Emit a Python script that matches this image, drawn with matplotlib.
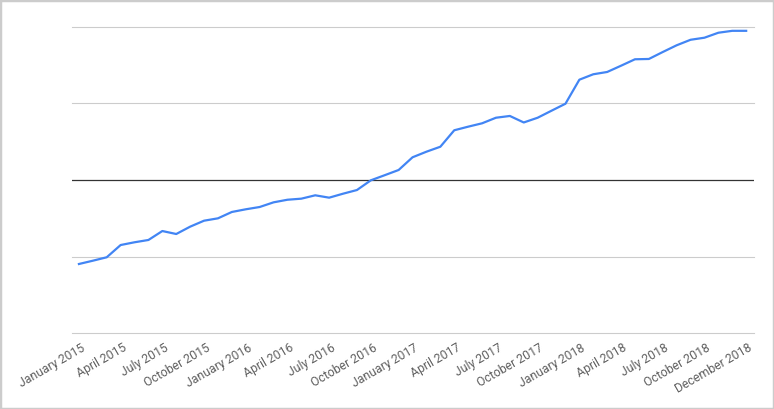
import numpy as np
import matplotlib
matplotlib.use("Agg")
import matplotlib.pyplot as plt
from matplotlib.patches import Rectangle
from matplotlib.transforms import ScaledTranslation

# monthly values, January 2015 onwards (gridlines every 10)
values = [
    -10.98, -10.55, -10.10, -8.50, -8.14, -7.84, -6.67, -7.06, -6.10, -5.32,
    -5.01, -4.18, -3.83, -3.53, -2.92, -2.58, -2.44, -2.00, -2.31, -1.79,
    -1.31, -0.04, 0.63, 1.31, 2.97, 3.70, 4.35, 6.50, 6.97, 7.41,
    8.14, 8.37, 7.52, 8.14, 9.06, 9.97, 13.11, 13.82, 14.12, 14.94,
    15.78, 15.82, 16.73, 17.61, 18.33, 18.60, 19.25, 19.50, 19.50,
]
months = list(range(len(values)))

tick_pos = [0, 3, 6, 9, 12, 15, 18, 21, 24, 27, 30, 33, 36, 39, 42, 45, 48]
tick_labels = [
    "January 2015", "April 2015", "July 2015", "October 2015",
    "January 2016", "April 2016", "July 2016", "October 2016",
    "January 2017", "April 2017", "July 2017", "October 2017",
    "January 2018", "April 2018", "July 2018", "October 2018",
    "December 2018",
]
grid_vals = [-20, -10, 10, 20]

plt.rcParams['font.family'] = ['Roboto', 'DejaVu Sans']

fig = plt.figure(figsize=(7.74, 4.09), dpi=100)
ax = fig.add_axes([0.0930, 0.1858, 0.8811, 0.7482])

for g in grid_vals:
    ax.axhline(g, color="#cccccc", linewidth=0.8, zorder=1, clip_on=False)
ax.axhline(0, color="#333333", linewidth=0.9, zorder=2)

ax.plot(months, values, color="#4285f4", linewidth=1.6, zorder=3,
        solid_joinstyle="round")

ax.set_xlim(-0.5, 48.56)
ax.set_ylim(-20, 20)
ax.set_yticks([])
ax.set_xticks(tick_pos)
ax.set_xticklabels(tick_labels, rotation=30, ha="right", va="center",
                   rotation_mode="anchor", fontsize=8.8, color="#606060")
ax.tick_params(axis="x", length=0, pad=10)
offset = ScaledTranslation(5 / 100, 0, fig.dpi_scale_trans)
for lbl in ax.get_xticklabels():
    lbl.set_transform(lbl.get_transform() + offset)

for s in ax.spines.values():
    s.set_visible(False)

# light grey frame round the whole picture
fig.patches.append(Rectangle((0, 0), 1, 1, transform=fig.transFigure,
                             fill=False, edgecolor="#cccccc", linewidth=2.5))

fig.savefig("out.png", dpi=100)
